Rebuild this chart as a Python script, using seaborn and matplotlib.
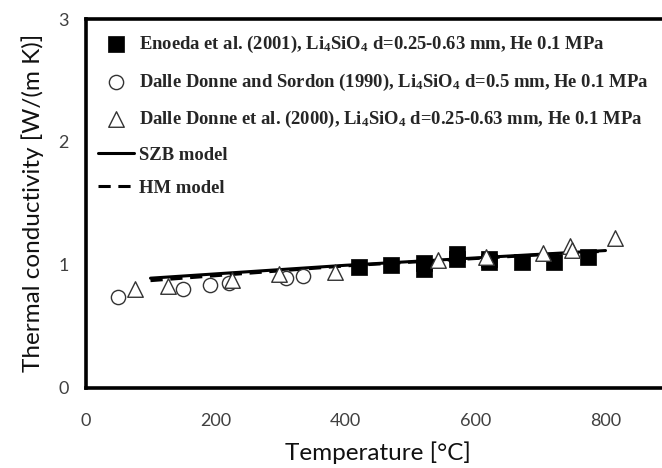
import numpy as np
import pandas as pd
import matplotlib
matplotlib.use("Agg")
import matplotlib.pyplot as plt
import seaborn as sns

# ---- data ----
eno_T = [421, 470, 520, 520, 572, 572, 621, 621, 671, 721, 773]
eno_k = [0.984, 1.000, 1.013, 0.967, 1.090, 1.050, 1.050, 1.025, 1.022, 1.024, 1.065]

sor_T = [50, 150, 192, 220, 308, 334]
sor_k = [0.739, 0.800, 0.835, 0.853, 0.889, 0.908]

dd_T = [76, 127, 226, 297, 384, 543, 616, 704, 745, 748, 815]
dd_k = [0.800, 0.826, 0.875, 0.924, 0.943, 1.038, 1.065, 1.098, 1.150, 1.120, 1.215]

model_T = [100, 200, 300, 400, 500, 600, 700, 800]
szb_k = [0.890, 0.925, 0.960, 0.995, 1.025, 1.055, 1.085, 1.115]
hm_k = [0.870, 0.910, 0.950, 0.990, 1.020, 1.050, 1.080, 1.110]

labels = [
    "Enoeda et al. (2001), Li$_4$SiO$_4$ d=0.25-0.63 mm, He 0.1 MPa",
    "Dalle Donne and Sordon (1990), Li$_4$SiO$_4$ d=0.5 mm, He 0.1 MPa",
    "Dalle Donne et al. (2000), Li$_4$SiO$_4$ d=0.25-0.63 mm, He 0.1 MPa",
    "SZB model",
    "HM model",
]
x_ticks = [0, 200, 400, 600, 800]
y_ticks = [0, 1, 2, 3]

sns.set_theme(style="white")
plt.rcParams["font.family"] = ["Lato", "DejaVu Sans"]
plt.rcParams["mathtext.fontset"] = "custom"
plt.rcParams["mathtext.rm"] = "Liberation Serif:bold"
plt.rcParams["mathtext.it"] = "Liberation Serif:bold"
plt.rcParams["mathtext.bf"] = "Liberation Serif:bold"

fig = plt.figure(figsize=(6.62, 4.68), dpi=100)
ax = fig.add_axes([85.5 / 662, 1 - 387.5 / 468, 585 / 662, 368.5 / 468])

models = pd.DataFrame({"T": model_T, "SZB": szb_k, "HM": hm_k})
sns.lineplot(data=models, x="T", y="SZB", ax=ax, color="black", lw=2.2,
             label=labels[3], zorder=2)
sns.lineplot(data=models, x="T", y="HM", ax=ax, color="black", lw=2.2,
             dashes=False, label=labels[4], zorder=2)
ax.lines[-1].set_dashes((4, 2.5))

sns.scatterplot(x=eno_T, y=eno_k, ax=ax, marker="s", s=140, color="black",
                edgecolor="black", linewidth=0.5, label=labels[0], zorder=3)
sns.scatterplot(x=sor_T, y=sor_k, ax=ax, marker="o", s=105, facecolor="white",
                edgecolor="#333333", linewidth=1.0, label=labels[1], zorder=3)
sns.scatterplot(x=dd_T, y=dd_k, ax=ax, marker="^", s=125, facecolor="white",
                edgecolor="#333333", linewidth=1.0, label=labels[2], zorder=4)

ax.set_xlim(0, 900)
ax.set_ylim(0, 3)
ax.set_xticks(x_ticks)
ax.set_yticks(y_ticks)
ax.tick_params(axis="x", direction="in", length=4, width=0.8, color="#888888",
               pad=18, labelsize=13, labelcolor="#404040")
ax.tick_params(axis="y", direction="in", length=4, width=0.8, color="#888888",
               pad=12, labelsize=13, labelcolor="#404040")
for sp in ax.spines.values():
    sp.set_visible(True)
    sp.set_color("black")
    sp.set_linewidth(2.6)

ax.set_xlabel("Temperature [°C]", fontsize=17.5, color="#111111", labelpad=9)
ax.set_ylabel("Thermal conductivity [W/(m K)]", fontsize=17.5, color="#111111", labelpad=10)

h, l = ax.get_legend_handles_labels()
order = [l.index(x) for x in labels]
leg = ax.legend([h[i] for i in order], [l[i] for i in order],
                loc="upper left", bbox_to_anchor=(98 / 662, 1 - 34 / 468),
                bbox_transform=fig.transFigure, frameon=False,
                prop=dict(family="Liberation Serif", weight="bold", size=13.4),
                handlelength=1.94, handletextpad=0.27, labelspacing=0.88,
                borderpad=0, borderaxespad=0)

fig.savefig("out.png", dpi=100)
